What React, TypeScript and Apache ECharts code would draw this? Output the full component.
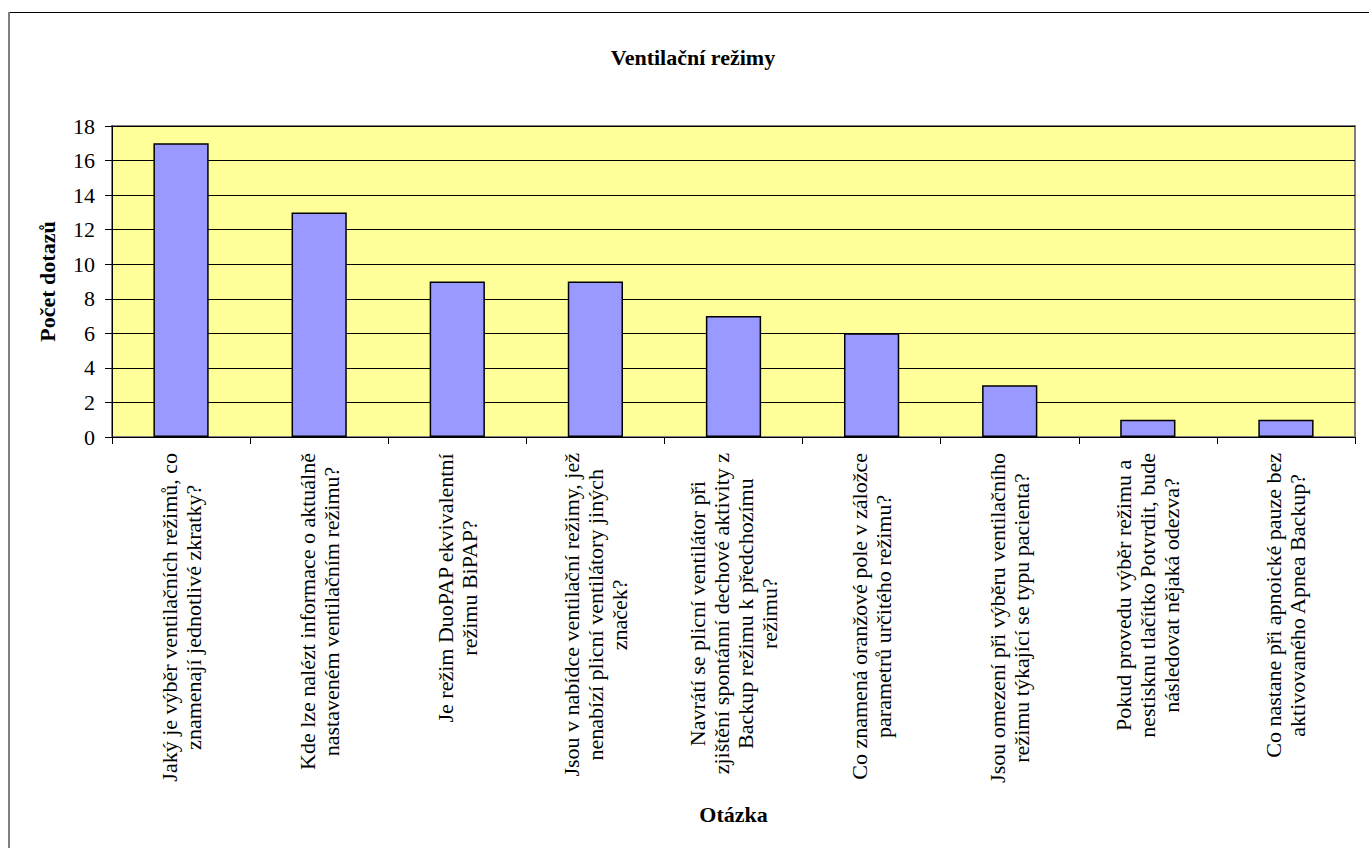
import React, { useEffect, useRef } from "react";
import * as echarts from "echarts";

const categories: string[][] = [
  ["Jaký je výběr ventilačních režimů, co", "znamenají jednotlivé zkratky?"],
  ["Kde lze nalézt informace o aktuálně", "nastaveném ventilačním režimu?"],
  ["Je režim DuoPAP ekvivalentní", "režimu BiPAP?"],
  ["Jsou v nabídce ventilační režimy, jež", "nenabízí plicní ventilátory jiných", "značek?"],
  ["Navrátí se plicní ventilátor při", "zjištění spontánní dechové aktivity z", "Backup režimu k předchozímu", "režimu?"],
  ["Co znamená oranžové pole v záložce", "parametrů určitého režimu?"],
  ["Jsou omezení při výběru ventilačního", "režimu týkající se typu pacienta?"],
  ["Pokud provedu výběr režimu a", "nestisknu tlačítko Potvrdit, bude", "následovat nějaká odezva?"],
  ["Co nastane při apnoické pauze bez", "aktivovaného Apnea Backup?"],
];
const values: number[] = [17, 13, 9, 9, 7, 6, 3, 1, 1];
const titleText = "Ventilační režimy";
const yAxisName = "Počet dotazů";
const xAxisName = "Otázka";

const FONT = "Liberation Serif";

export default function App() {
  const ref = useRef<HTMLDivElement>(null);
  useEffect(() => {
    if (!ref.current) return;
    const chart = echarts.init(ref.current, undefined, { renderer: "svg" });
    const catLabels = categories.map((lines) => lines.join("\n"));
    chart.setOption({
      animation: false,
      backgroundColor: "#ffffff",
      textStyle: { fontFamily: FONT },
      title: {
        text: titleText,
        left: 693,
        top: 46,
        textAlign: "center",
        padding: 0,
        textStyle: { fontFamily: FONT, fontSize: 22, fontWeight: "bold", color: "#000" },
      },
      graphic: [
        { type: "line", shape: { x1: 8, y1: 12.5, x2: 1369, y2: 12.5 }, style: { stroke: "#000", lineWidth: 1 } },
        { type: "line", shape: { x1: 9, y1: 12, x2: 9, y2: 848 }, style: { stroke: "#808080", lineWidth: 2 } },
      ],
      grid: {
        left: 112,
        top: 126,
        width: 1243,
        height: 311,
        show: true,
        backgroundColor: "#FFFF99",
        borderColor: "#808080",
        borderWidth: 2,
        containLabel: false,
      },
      xAxis: {
        type: "category",
        data: catLabels,
        name: xAxisName,
        nameLocation: "middle",
        nameGap: 366,
        nameTextStyle: { fontFamily: FONT, fontSize: 22, fontWeight: "bold", color: "#000" },
        axisLine: { show: true, lineStyle: { color: "#000", width: 1 } },
        axisTick: { show: true, length: 7, lineStyle: { color: "#000" } },
        axisLabel: {
          interval: 0,
          rotate: 90,
          margin: 16,
          color: "#000",
          fontFamily: FONT,
          fontSize: 22,
          lineHeight: 24,
          formatter: (v: string) =>
            v
              .split("\n")
              .map((l) => `{c|${l}}`)
              .join("\n"),
          rich: {
            c: { align: "center", fontFamily: FONT, fontSize: 22, lineHeight: 24, color: "#000" },
          },
        },
        splitLine: { show: false },
      },
      yAxis: {
        type: "value",
        min: 0,
        max: 18,
        interval: 2,
        name: yAxisName,
        nameLocation: "middle",
        nameGap: 54,
        nameRotate: 90,
        nameTextStyle: { fontFamily: FONT, fontSize: 22, fontWeight: "bold", color: "#000" },
        axisLine: { show: true, lineStyle: { color: "#000", width: 1 } },
        axisTick: { show: true, length: 7, lineStyle: { color: "#000" } },
        axisLabel: { margin: 17, color: "#000", fontFamily: FONT, fontSize: 22 },
        splitLine: { show: true, lineStyle: { color: "#000", width: 1 } },
      },
      series: [
        {
          type: "bar",
          data: values,
          barCategoryGap: "60%",
          itemStyle: { color: "#9999FF", borderColor: "#000", borderWidth: 1.5 },
        },
      ],
    });
    return () => chart.dispose();
  }, []);
  return (
    <div
      ref={ref}
      style={{ position: "fixed", left: 0, top: 0, width: 1369, height: 848 }}
    />
  );
}
